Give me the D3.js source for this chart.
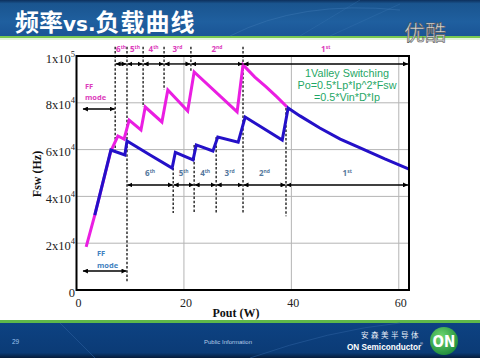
<!DOCTYPE html>
<html><head><meta charset="utf-8">
<script src="https://cdn.jsdelivr.net/npm/d3@7"></script>
<style>body{margin:0;background:#fff;} svg{display:block;}</style>
</head><body>
<script>
// ---- data ----
const xTicks = [0, 20, 40, 60];
const yTicks = [0, 20000, 40000, 60000, 80000, 100000];
const yTickMant = ["0", "2x10", "4x10", "6x10", "8x10", "1x10"];
const yTickExp = ["", "4", "4", "4", "4", "5"];
const pinkX = [1.8, 3.4, 6.4, 7.7, 8.85, 9.8, 12.0, 12.8, 15.9, 17.0, 20.7, 21.9, 29.9, 31.0, 33.2, 35.3, 37.3, 39.2];
const pinkY = [18400, 32000, 59400, 65800, 64500, 72600, 68400, 78200, 71800, 85500, 76500, 93200, 76100, 96200, 91000, 86800, 82500, 78200];
const blueX = [3.4, 6.4, 9.0, 9.4, 13.7, 17.8, 18.4, 21.7, 22.3, 25.4, 26.3, 30.1, 31.4, 38.3, 39.4, 41.6, 45.3, 49.1, 52.8, 57.4, 61.9];
const blueY = [32000, 59800, 57700, 63700, 57700, 52100, 58800, 55600, 62000, 59400, 65400, 63200, 73900, 64100, 77800, 74400, 69200, 64500, 60700, 56000, 51700];
const pinkBounds = [7.2, 9.4, 12.4, 16.3, 21.3, 31.0];
const blueBounds = [9.4, 18.0, 21.9, 26.0, 31.0, 39.0];
const dashX = [7.2, 9.4, 12.4, 16.3, 21.3, 31.0, 18.0, 21.9, 26.0, 39.0];
const dashTop = [104000, 104000, 104000, 104000, 104000, 104000, 52100, 62000, 65400, 77800];
const dashBottom = [59800, 3400, 78200, 85500, 93200, 32900, 32900, 32900, 32900, 31500];
const stageNum = ["6", "5", "4", "3", "2", "1"];
const stageSuf = ["th", "th", "th", "rd", "nd", "st"];
const formula = ["1Valley Switching", "Po=0.5*Lp*Ip^2*Fsw", "=0.5*Vin*D*Ip"];

const W = 480, H = 358;
const svg = d3.select("body").append("svg").attr("width", W).attr("height", H);
const defs = svg.append("defs");

// header
const hg = defs.append("linearGradient").attr("id", "hg").attr("x1", 0).attr("y1", 0).attr("x2", 0).attr("y2", 1);
hg.append("stop").attr("offset", "0").attr("stop-color", "#0d2f5c");
hg.append("stop").attr("offset", "0.1").attr("stop-color", "#1a558f");
hg.append("stop").attr("offset", "0.6").attr("stop-color", "#1f5f9f");
hg.append("stop").attr("offset", "1").attr("stop-color", "#1a5596");
svg.append("rect").attr("x", 0).attr("y", 0).attr("width", W).attr("height", 36).attr("fill", "url(#hg)");
svg.append("rect").attr("x", 0).attr("y", 36).attr("width", W).attr("height", 2).attr("fill", "#78c850");
svg.append("rect").attr("x", 0).attr("y", 38).attr("width", W).attr("height", 2).attr("fill", "#e4f4dc");
svg.append("path").attr("d", "M230,36 Q300,0 400,10").attr("fill", "none").attr("stroke", "#3d78b4").attr("stroke-width", 0.8).attr("opacity", 0.6);
svg.append("path").attr("d", "M300,36 L360,0 M330,36 L400,4").attr("fill", "none").attr("stroke", "#3d78b4").attr("stroke-width", 0.6).attr("opacity", 0.5);

const title = svg.append("text").attr("x", 15).attr("y", 31).attr("fill", "#fff")
  .attr("font-family", "'Noto Sans CJK SC', sans-serif").attr("font-weight", "bold").attr("font-size", 24);
title.append("tspan").text("频率");
title.append("tspan").attr("font-family", "'DejaVu Sans', sans-serif").attr("font-size", 20).text("vs.");
title.append("tspan").attr("letter-spacing", 1).text("负载曲线");

svg.append("text").attr("x", 404).attr("y", 40).attr("fill", "#dcdcdc").attr("stroke", "#555").attr("stroke-width", 0.6)
  .attr("font-family", "'Noto Sans CJK SC', sans-serif").attr("font-size", 21).text("优酷");

// footer
const fg = defs.append("linearGradient").attr("id", "fg").attr("x1", 0).attr("y1", 0).attr("x2", 0).attr("y2", 1);
fg.append("stop").attr("offset", "0").attr("stop-color", "#0d4282");
fg.append("stop").attr("offset", "0.85").attr("stop-color", "#0b3b76");
fg.append("stop").attr("offset", "1").attr("stop-color", "#061c3a");
svg.append("rect").attr("x", 0).attr("y", 320).attr("width", W).attr("height", 3).attr("fill", "#5fb84a");
svg.append("rect").attr("x", 0).attr("y", 323).attr("width", W).attr("height", 35).attr("fill", "url(#fg)");
svg.append("path").attr("d", "M60,323 L95,358 M250,358 Q330,330 400,323").attr("fill", "none").attr("stroke", "#2a5e9c").attr("stroke-width", 1).attr("opacity", 0.6);
svg.append("text").attr("x", 12).attr("y", 344).attr("fill", "#9cc4f0").attr("font-family", "'Liberation Sans', sans-serif").attr("font-size", 6.5).text("29");
svg.append("text").attr("x", 204).attr("y", 344).attr("fill", "#b8cce8").attr("font-family", "'Liberation Sans', sans-serif").attr("font-size", 6).text("Public Information");
svg.append("text").attr("x", 361).attr("y", 338).attr("fill", "#e8eef8").attr("font-family", "'Noto Sans CJK SC', sans-serif").attr("font-size", 7.5).attr("letter-spacing", 2.5).text("安森美半导体");
svg.append("text").attr("x", 347).attr("y", 350).attr("fill", "#fff").attr("font-family", "'Liberation Sans', sans-serif").attr("font-weight", "bold").attr("font-size", 8.2).text("ON Semiconductor");
svg.append("text").attr("x", 420).attr("y", 345).attr("fill", "#fff").attr("font-family", "'Liberation Sans', sans-serif").attr("font-size", 4).text("®");
const og = defs.append("radialGradient").attr("id", "og").attr("cx", "0.4").attr("cy", "0.35").attr("r", "0.7");
og.append("stop").attr("offset", "0").attr("stop-color", "#6fd870");
og.append("stop").attr("offset", "1").attr("stop-color", "#1d8a3a");
svg.append("circle").attr("cx", 444).attr("cy", 341).attr("r", 14).attr("fill", "url(#og)");
svg.append("text").attr("x", 444).attr("y", 346.5).attr("text-anchor", "middle").attr("fill", "#fff")
  .attr("font-family", "'DejaVu Sans Condensed', 'DejaVu Sans', sans-serif").attr("font-weight", "bold").attr("font-size", 15).text("ON");

// ---- chart ----
const x = d3.scaleLinear().domain([0, 61.9]).range([76.5, 409]);
const y = d3.scaleLinear().domain([0, 100000]).range([290, 56]);
const g = svg.append("g");

g.selectAll(".hg").data(yTicks.filter(v => v > 0 && v < 100000)).join("line")
  .attr("x1", x(0)).attr("x2", x(61.9)).attr("y1", d => y(d)).attr("y2", d => y(d))
  .attr("stroke", "#b4b4b4").attr("stroke-width", 1);
g.selectAll(".vg").data(xTicks.filter(v => v > 0)).join("line")
  .attr("x1", d => x(d)).attr("x2", d => x(d)).attr("y1", y(0)).attr("y2", y(100000))
  .attr("stroke", "#b4b4b4").attr("stroke-width", 1);

const xAxis = g.append("g").attr("transform", `translate(0,${y(0)})`)
  .call(d3.axisBottom(x).tickValues(xTicks).tickSize(0).tickPadding(8).tickFormat(d3.format("d")));
xAxis.select(".domain").remove();
xAxis.selectAll("text").attr("font-family", "'Liberation Serif', serif").attr("font-size", 12).attr("fill", "#222").attr("dx", 1.5);

const yAxis = g.append("g").attr("transform", `translate(75,0)`)
  .call(d3.axisLeft(y).tickValues(yTicks).tickSize(0).tickPadding(0).tickFormat(() => ""));
yAxis.select(".domain").remove();
yAxis.selectAll(".tick text").each(function(d, i) {
  const t = d3.select(this).attr("font-family", "'Liberation Serif', serif").attr("font-size", 12.5).attr("fill", "#222")
    .attr("text-anchor", "end").attr("dy", 6);
  t.text(null);
  t.append("tspan").text(yTickMant[i]);
  if (yTickExp[i]) t.append("tspan").attr("font-size", 8.5).attr("dy", -6).text(yTickExp[i]);
});

svg.append("text").attr("x", 236).attr("y", 317).attr("text-anchor", "middle")
  .attr("font-family", "'Liberation Serif', serif").attr("font-weight", "bold").attr("font-size", 12).attr("fill", "#111").text("Pout (W)");
svg.append("text").attr("transform", "translate(41,174) rotate(-90)").attr("text-anchor", "middle")
  .attr("font-family", "'Liberation Serif', serif").attr("font-weight", "bold").attr("font-size", 12).attr("fill", "#111").text("Fsw (Hz)");

g.selectAll(".dash").data(dashX).join("line")
  .attr("x1", d => x(d)).attr("x2", d => x(d))
  .attr("y1", (d, i) => y(dashTop[i])).attr("y2", (d, i) => y(dashBottom[i]))
  .attr("stroke", "#111").attr("stroke-width", 1.3).attr("stroke-dasharray", "2.5,1.8");

const line = d3.line().x(d => x(d[0])).y(d => y(d[1]));
g.append("path").datum(pinkX.map((v, i) => [v, pinkY[i]])).attr("d", line)
  .attr("fill", "none").attr("stroke", "#ea1ee2").attr("stroke-width", 3).attr("stroke-linejoin", "miter");
g.append("path").datum(blueX.map((v, i) => [v, blueY[i]])).attr("d", line)
  .attr("fill", "none").attr("stroke", "#2410c8").attr("stroke-width", 3).attr("stroke-linejoin", "miter");

g.append("rect").attr("x", x(0)).attr("y", y(100000)).attr("width", x(61.9) - x(0)).attr("height", y(0) - y(100000))
  .attr("fill", "none").attr("stroke", "#000").attr("stroke-width", 2);

defs.append("marker").attr("id", "ah").attr("viewBox", "0 0 10 10")
  .attr("refX", 10).attr("refY", 5).attr("markerWidth", 5).attr("markerHeight", 5)
  .attr("markerUnits", "userSpaceOnUse").attr("orient", "auto-start-reverse")
  .append("path").attr("d", "M0,0 L10,5 L0,10 Z").attr("fill", "#000");

function arrowRow(bounds, yv) {
  const ends = bounds.concat([61.8]);
  const segs = d3.range(bounds.length).map(i => [ends[i], ends[i + 1]]);
  g.selectAll(null).data(segs).join("line")
    .attr("x1", d => x(d[0]) + 0.5).attr("x2", d => x(d[1]) - 0.5)
    .attr("y1", y(yv)).attr("y2", y(yv))
    .attr("stroke", "#000").attr("stroke-width", 1.4)
    .attr("marker-start", "url(#ah)").attr("marker-end", "url(#ah)");
  return segs;
}
const pinkSegs = arrowRow(pinkBounds, 96600);
const blueSegs = arrowRow(blueBounds, 44900);
[[77350, 7.2], [8100, 9.4]].forEach(([yv, xe]) => {
  g.append("line").attr("x1", x(1.2)).attr("x2", x(xe) - 0.5).attr("y1", y(yv)).attr("y2", y(yv))
    .attr("stroke", "#000").attr("stroke-width", 1.4)
    .attr("marker-start", "url(#ah)").attr("marker-end", "url(#ah)");
});

function stageLabels(segs, yv, color) {
  segs.forEach((s, i) => {
    const t = g.append("text").attr("x", (x(s[0]) + x(s[1])) / 2).attr("y", y(yv)).attr("text-anchor", "middle")
      .attr("font-family", "'Open Sans', sans-serif").attr("font-weight", "bold").attr("font-size", 8).attr("fill", color);
    t.append("tspan").text(stageNum[i]);
    t.append("tspan").attr("font-size", 5).attr("dy", -3).text(stageSuf[i]);
  });
}
stageLabels(pinkSegs, 101500, "#dc3cbc");
stageLabels(blueSegs, 48900, "#55779c");

[["#dc3cbc", 85, 88.5, 100], ["#3f7fc0", 97, 256, 268]].forEach(([c, xx, y1, y2]) => {
  g.append("text").attr("x", xx).attr("y", y1).attr("fill", c).attr("font-family", "'Open Sans', sans-serif").attr("font-weight", "bold").attr("font-size", 7.5).text("FF");
  g.append("text").attr("x", xx).attr("y", y2).attr("fill", c).attr("font-family", "'Open Sans', sans-serif").attr("font-weight", "bold").attr("font-size", 7.5).text("mode");
});

formula.forEach((s, i) => {
  g.append("text").attr("x", 347).attr("y", 77 + i * 12).attr("text-anchor", "middle")
    .attr("font-family", "'Liberation Sans', sans-serif").attr("font-size", 10.8).attr("fill", "#1fa766").text(s);
});
</script>
</body></html>
